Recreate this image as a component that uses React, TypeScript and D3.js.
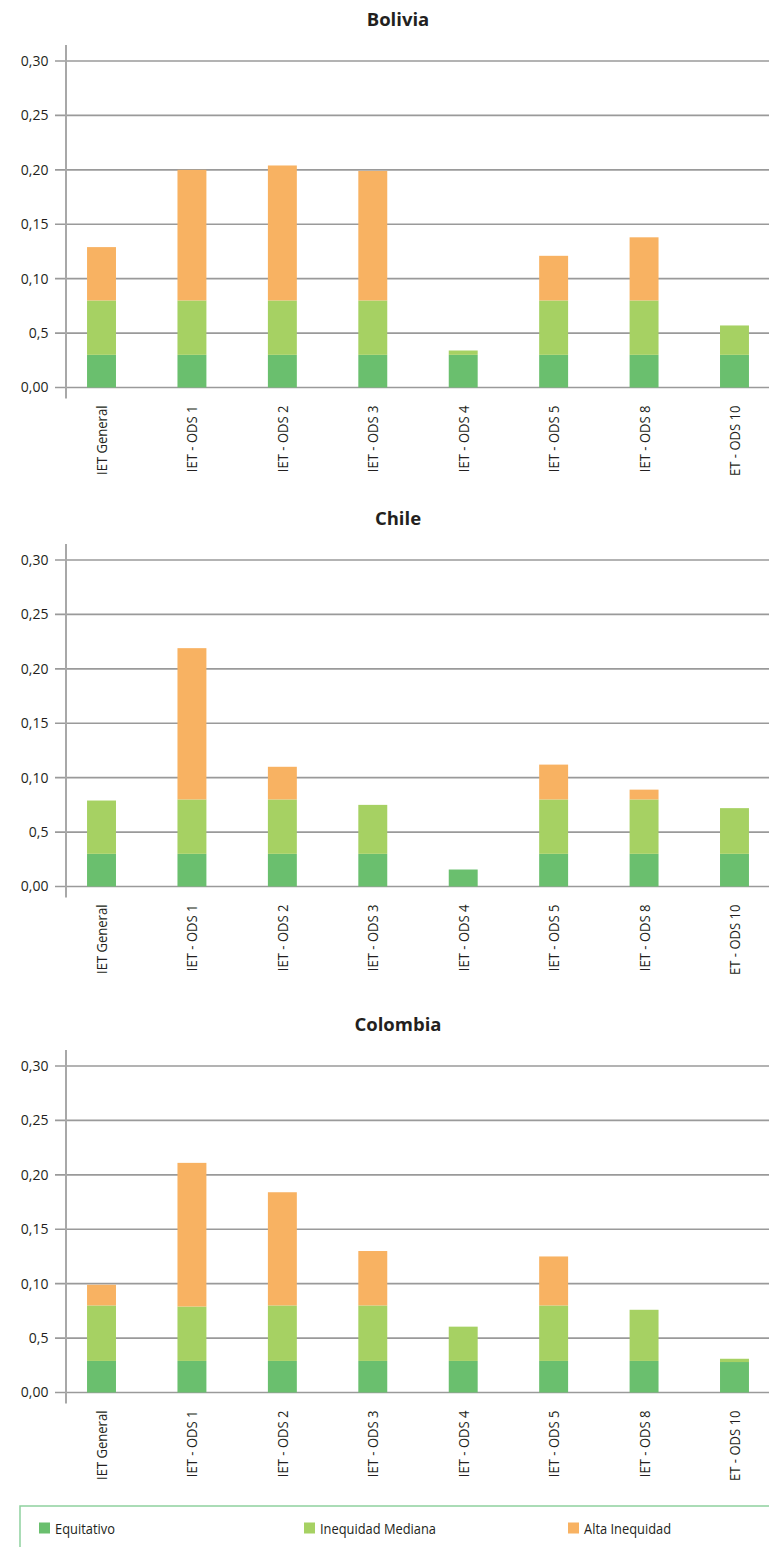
import React from "react";
import * as d3 from "d3";

const categories = ["IET General", "IET - ODS 1", "IET - ODS 2", "IET - ODS 3", "IET - ODS 4", "IET - ODS 5", "IET - ODS 8", "ET - ODS 10"];
const seriesNames = ["Equitativo", "Inequidad Mediana", "Alta Inequidad"];
const seriesColors = ["#6abf6e", "#a6d163", "#f8b262"];
const yTicks = [0, 0.05, 0.1, 0.15, 0.2, 0.25, 0.3];
const yTickLabels = ["0,00", "0,5", "0,10", "0,15", "0,20", "0,25", "0,30"];

const countries = ["Bolivia", "Chile", "Colombia"];

const boliviaEquitativo = [0.03, 0.03, 0.03, 0.03, 0.03, 0.03, 0.03, 0.03];
const boliviaMediana = [0.05, 0.05, 0.05, 0.05, 0.004, 0.05, 0.05, 0.027];
const boliviaAlta = [0.049, 0.12, 0.124, 0.119, 0, 0.041, 0.058, 0];

const chileEquitativo = [0.03, 0.03, 0.03, 0.03, 0.0156, 0.03, 0.03, 0.03];
const chileMediana = [0.049, 0.05, 0.05, 0.045, 0, 0.05, 0.05, 0.042];
const chileAlta = [0, 0.139, 0.03, 0, 0, 0.032, 0.009, 0];

const colombiaEquitativo = [0.029, 0.029, 0.029, 0.029, 0.029, 0.029, 0.029, 0.028];
const colombiaMediana = [0.051, 0.05, 0.051, 0.051, 0.0315, 0.051, 0.047, 0.003];
const colombiaAlta = [0.019, 0.132, 0.104, 0.05, 0, 0.045, 0, 0];

const countrySeries = [
  [boliviaEquitativo, boliviaMediana, boliviaAlta],
  [chileEquitativo, chileMediana, chileAlta],
  [colombiaEquitativo, colombiaMediana, colombiaAlta],
];

const W = 769;
const H = 1547;
const FONT = "'Open Sans', 'DejaVu Sans', sans-serif";
const panelTops = [61, 560, 1066];
const plotH = 326.5;
const axisX = 66;

function Panel({ name, series, top }: { name: string; series: number[][]; top: number }) {
  const y = d3.scaleLinear().domain([0, 0.3]).range([top + plotH, top]);
  const x = d3.scaleBand<string>().domain(categories).range([56.3, 779.7]).paddingInner(0.68).paddingOuter(0.34);
  const rows = categories.map((c, i) => {
    const r: any = { cat: c };
    seriesNames.forEach((s, k) => (r[s] = series[k][i]));
    return r;
  });
  const stacked = d3.stack<any>().keys(seriesNames)(rows);
  const base = y(0);
  return (
    <g>
      <text x={398} y={top - 35} textAnchor="middle" fontFamily={FONT} fontWeight={700} fontSize={18.5} fill="#231f20">
        {name}
      </text>
      {yTicks.map((t, i) => (
        <g key={i}>
          <line x1={55} x2={W} y1={y(t)} y2={y(t)} stroke="#9a9a9a" strokeWidth={1.6} />
          <text x={48.5} y={y(t)} dy="0.35em" textAnchor="end" fontFamily={FONT} fontSize={14} fill="#231f20">
            {yTickLabels[i]}
          </text>
        </g>
      ))}
      <line x1={axisX} x2={axisX} y1={top - 16} y2={base + 11} stroke="#a8a8a8" strokeWidth={2} />
      {stacked.map((layer, k) => (
        <g key={k} fill={seriesColors[k]}>
          {layer.map((d, i) => {
            const h = y(d[0]) - y(d[1]);
            if (h <= 0.01) return null;
            return <rect key={i} x={x(categories[i])} y={y(d[1])} width={x.bandwidth()} height={h} />;
          })}
        </g>
      ))}
      {categories.map((c) => {
        const cx = (x(c) as number) + x.bandwidth() / 2 + 5.5;
        return (
          <text
            key={c}
            transform={`translate(${cx},${base + 18}) rotate(-90) scale(0.9,1)`}
            textAnchor="end"
            fontFamily={FONT}
            fontSize={14.5}
            fill="#231f20"
          >
            {c}
          </text>
        );
      })}
    </g>
  );
}

export default function App() {
  const legendX = [39, 304, 568];
  return (
    <svg width={W} height={H} style={{ position: "absolute", left: 0, top: 0, background: "#fff" }}>
      <rect x={0} y={0} width={W} height={H} fill="#fff" />
      {countries.map((c, i) => (
        <Panel key={c} name={c} series={countrySeries[i]} top={panelTops[i]} />
      ))}
      <path d={`M20,${H} L20,1506 L${W},1506`} fill="none" stroke="#8fd19e" strokeWidth={1.5} />
      {seriesNames.map((s, i) => (
        <g key={s}>
          <rect x={legendX[i]} y={1522.5} width={11} height={11} fill={seriesColors[i]} />
          <text
            transform={`translate(${legendX[i] + 16},1533.5) scale(0.9,1)`}
            fontFamily={FONT}
            fontSize={14.3}
            fill="#231f20"
          >
            {s}
          </text>
        </g>
      ))}
    </svg>
  );
}
